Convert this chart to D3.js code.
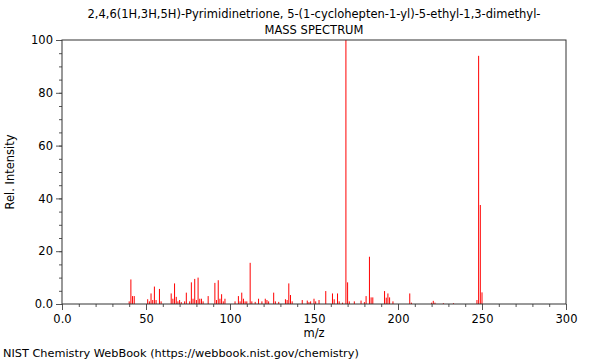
<!DOCTYPE html>
<html>
<head>
<meta charset="utf-8">
<script src="https://cdn.jsdelivr.net/npm/d3@7"></script>
<style>
body { margin: 0; background: #fff; }
svg { display: block; font-family: "DejaVu Sans", sans-serif; }
</style>
</head>
<body>
<svg width="600" height="360"></svg>
<script>
var titleLines = ["2,4,6(1H,3H,5H)-Pyrimidinetrione, 5-(1-cyclohepten-1-yl)-5-ethyl-1,3-dimethyl-", "MASS SPECTRUM"];
var footer = "NIST Chemistry WebBook (https://webbook.nist.gov/chemistry)";

// m/z and relative intensity
var mz = [40, 41, 42, 43, 51, 52, 53, 54, 55, 56, 58, 59, 65, 66, 67, 68, 69, 70, 71, 73,
    74, 76, 77, 78, 79, 80, 81, 82, 83, 84, 87, 91, 92, 93, 94, 95, 96, 97, 103, 105,
    106, 107, 108, 109, 110, 112, 113, 115, 117, 119, 121, 122, 123, 126, 127, 129, 133, 134, 135, 136,
    137, 143, 146, 147, 148, 150, 151, 153, 157, 161, 162, 164, 165, 167, 169, 170, 171, 174, 178, 180,
    181, 183, 184, 185, 192, 193, 194, 195, 197, 207, 208, 220, 221, 222, 227, 233, 247, 248, 249, 250];
var intensity = [1, 9.3, 3, 3, 1.8, 1, 4, 1.5, 6.6, 1.5, 5.7, 1, 4, 2, 7.8, 2.7, 1, 1.5, 0.7, 1,
    4.3, 1, 8.2, 2, 9.5, 1.5, 10, 2, 2, 1, 3, 8, 1.5, 9, 2, 3.7, 1, 2, 1, 3,
    1, 4.3, 2, 1, 1, 15.6, 1, 0.8, 2, 1, 2, 1.5, 1, 4.3, 1, 0.8, 1.8, 1.5, 7.8, 3.4,
    1, 1.5, 1.3, 0.7, 1, 2, 1, 1.5, 4.9, 4, 1.8, 4, 1, 0.5, 100, 8.2, 1, 1, 1.3, 0.7,
    3, 17.9, 2.5, 2.5, 4.9, 2.4, 4, 2.5, 1, 4, 0.5, 0.5, 1.2, 0.5, 0.3, 0.3, 1.5, 94, 37.5, 4.4];

var xTicks = [0, 50, 100, 150, 200, 250, 300];
var xTickLabels = ["0.0", "50", "100", "150", "200", "250", "300"];
var yTicks = [0, 20, 40, 60, 80, 100];
var yTickLabels = ["0.0", "20", "40", "60", "80", "100"];

// plot box (note: "top" is taken by window.top)
var plotLeft = 62, plotRight = 566, plotTop = 40, plotBottom = 304;

var svg = d3.select("svg");

var x = d3.scaleLinear().domain([0, 300]).range([plotLeft, plotRight]);
var y = d3.scaleLinear().domain([0, 100]).range([plotBottom, plotTop]);

// minor ticks first, then the labelled ones on top
svg.append("g")
    .attr("transform", "translate(0," + plotBottom + ")")
    .call(d3.axisBottom(x).tickValues(d3.range(0, 301, 10)).tickSize(3).tickFormat(""))
    .call(function(g) { g.select(".domain").remove() })
svg.append("g")
    .attr("transform", "translate(" + plotLeft + ",0)")
    .call(d3.axisLeft(y).tickValues(d3.range(0, 101, 5)).tickSize(3).tickFormat(""))
    .call(function(g) { g.select(".domain").remove() })

var xAxis = svg.append("g")
    .attr("transform", "translate(0," + plotBottom + ")")
    .call(d3.axisBottom(x).tickValues(xTicks).tickSize(6).tickPadding(5)
        .tickFormat(function(d, i) { return xTickLabels[i]; }))
xAxis.select(".domain").remove()
var yAxis = svg.append("g")
    .attr("transform", "translate(" + plotLeft + ",0)")
    .call(d3.axisLeft(y).tickValues(yTicks).tickSize(6).tickPadding(3)
        .tickFormat(function(d, i) { return yTickLabels[i]; }))
yAxis.select(".domain").remove()

svg.selectAll(".tick text").attr("font-size", 11.5).attr("font-family", "DejaVu Sans").attr("fill", "#000")
svg.selectAll(".tick line").attr("stroke", "#555")

// peaks
svg.append("g").selectAll("line")
    .data(mz)
    .enter().append("line")
    .attr("x1", function(d) { return x(d); })
    .attr("x2", function(d) { return x(d); })
    .attr("y1", y(0))
    .attr("y2", function(d, i) { return y(intensity[i]); })
    .attr("stroke", "#ff0000")
    .attr("stroke-width", 1)

// frame
svg.append("rect")
    .attr("x", plotLeft).attr("y", plotTop)
    .attr("width", plotRight - plotLeft).attr("height", plotBottom - plotTop)
    .attr("fill", "none").attr("stroke", "#333").attr("stroke-width", 1)

svg.selectAll(".title")
    .data(titleLines)
    .enter().append("text")
    .attr("x", (plotLeft + plotRight) / 2)
    .attr("y", function(d, i) { return 18 + i * 16; })
    .attr("text-anchor", "middle")
    .attr("font-size", 11.5)
    .text(function(d) { return d; })

svg.append("text")
    .attr("x", (plotLeft + plotRight) / 2).attr("y", 337)
    .attr("text-anchor", "middle").attr("font-size", 11.5)
    .text("m/z")

svg.append("text")
    .attr("transform", "translate(14," + ((plotTop + plotBottom) / 2) + ") rotate(-90)")
    .attr("text-anchor", "middle").attr("font-size", 11.5)
    .text("Rel. Intensity")

svg.append("text")
    .attr("x", 3).attr("y", 357)
    .attr("font-size", 11.3)
    .text(footer)
</script>
</body>
</html>
